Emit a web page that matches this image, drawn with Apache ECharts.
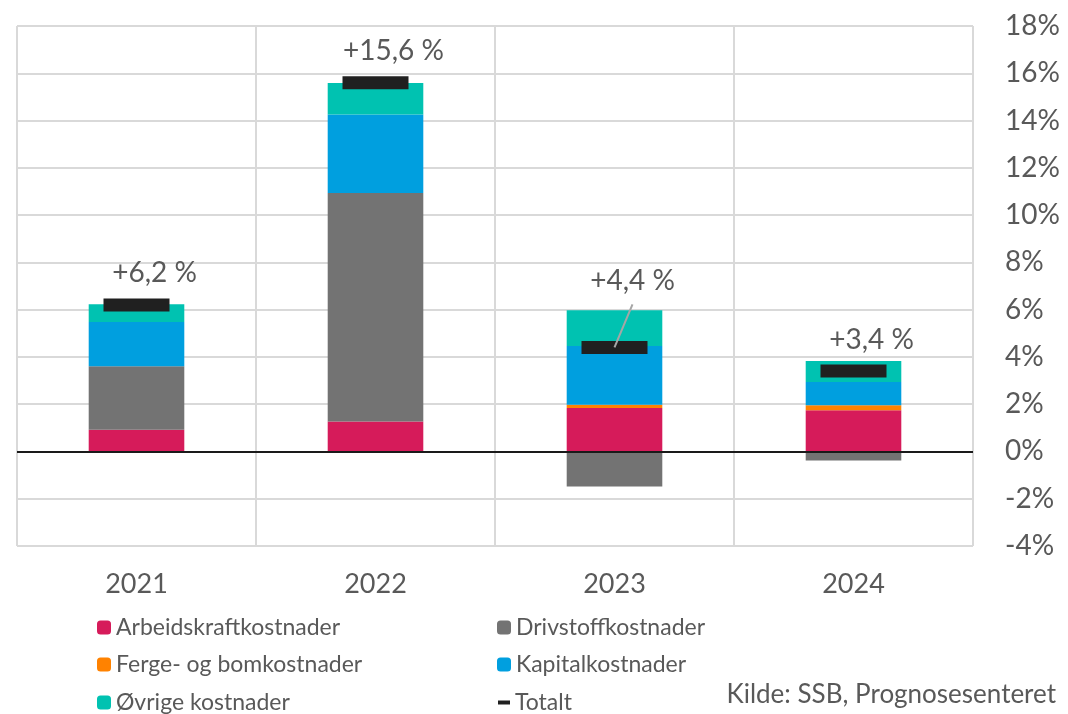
<!DOCTYPE html>
<html>
<head>
<meta charset="utf-8">
<script src="https://cdn.jsdelivr.net/npm/echarts@6/dist/echarts.min.js"></script>
<style>
html,body{margin:0;padding:0;background:#fff;}
#c{width:1068px;height:714px;}
</style>
</head>
<body>
<div id="c"></div>
<script>
const categories = ['2021', '2022', '2023', '2024'];
const arbeidskraft = [0.92, 1.27, 1.84, 1.74];
const drivstoff = [2.68, 9.66, -1.48, -0.38];
const ferge = [0, 0, 0.14, 0.21];
const kapital = [1.88, 3.33, 2.48, 0.99];
const ovrige = [0.75, 1.33, 1.51, 0.89];
const totalt = [6.2, 15.6, 4.4, 3.4];
const yMin = -4, yMax = 18, yStep = 2;
const sourceText = 'Kilde: SSB, Prognosesenteret';

const FONT = 'Lato';
const TXT = '#595959';
const GRID = '#d9d9d9';

const chart = echarts.init(document.getElementById('c'), null, {renderer: 'canvas'});

function barSeries(name, data, color, extra) {
  return Object.assign({
    name: name, type: 'bar', stack: 'k', data: data, barWidth: '40%',
    itemStyle: {color: color}, emphasis: {disabled: true}, z: 2
  }, extra || {});
}

const fmt = v => '+' + v.toFixed(1).replace('.', ',') + ' %';

const legendText = {fontSize: 23, color: TXT, fontFamily: FONT};
function legendItem(name, left, top, icon) {
  return {
    orient: 'horizontal', left: left, top: top, padding: 0,
    itemWidth: icon ? 12 : 14, itemHeight: icon ? 4 : 14, itemGap: 5,
    selectedMode: false, data: [icon ? {name: name, icon: icon} : name],
    textStyle: legendText
  };
}

const LABEL_DX = 18;
const LABEL_DY = -11;
const LEADER_IDX = 2;
const LEADER_DY = -46;

chart.setOption({
  animation: false,
  textStyle: {fontFamily: FONT},
  grid: {left: 17, right: 95, top: 26, bottom: 168, containLabel: false},
  xAxis: {
    type: 'category', data: categories, position: 'bottom',
    axisLine: {show: false, onZero: false}, axisTick: {show: false},
    axisLabel: {fontSize: 27, color: TXT, margin: 25, fontFamily: FONT},
    splitLine: {show: true, lineStyle: {color: GRID, width: 2}}
  },
  yAxis: {
    type: 'value', position: 'right', min: yMin, max: yMax, interval: yStep,
    axisLine: {show: false}, axisTick: {show: false},
    axisLabel: {formatter: '{value}%', fontSize: 28, color: TXT, margin: 32, fontFamily: FONT},
    splitLine: {show: true, lineStyle: {color: GRID, width: 2}}
  },
  legend: [
    legendItem('Arbeidskraftkostnader', 97, 616),
    legendItem('Ferge- og bomkostnader', 97, 653),
    legendItem('Øvrige kostnader', 97, 691),
    legendItem('Drivstoffkostnader', 497, 616),
    legendItem('Kapitalkostnader', 497, 653),
    legendItem('Totalt', 498, 691, 'rect')
  ],
  series: [
    barSeries('Arbeidskraftkostnader', arbeidskraft, '#d61b5a', {
      markLine: {
        silent: true, symbol: 'none', label: {show: false},
        lineStyle: {color: '#1a1a1a', width: 2, type: 'solid'},
        data: [{yAxis: 0}], z: 5
      }
    }),
    barSeries('Drivstoffkostnader', drivstoff, '#737373'),
    barSeries('Ferge- og bomkostnader', ferge, '#ff8200'),
    barSeries('Kapitalkostnader', kapital, '#009fdf'),
    barSeries('Øvrige kostnader', ovrige, '#00c2b1'),
    {
      name: 'Totalt', type: 'scatter', data: totalt, symbol: 'rect', symbolSize: [66, 13],
      itemStyle: {color: '#202020', opacity: 1}, z: 6, emphasis: {disabled: true},
      label: {show: true, position: 'top', distance: 0,
              formatter: p => fmt(p.value), fontSize: 28, color: TXT, fontFamily: FONT},
      labelLayout: function (p) {
        return {dx: LABEL_DX, dy: p.dataIndex === LEADER_IDX ? LEADER_DY : LABEL_DY};
      }
    }
  ]
});

// Leader line for the 2023 label, derived from the data point's pixel position
const pt = chart.convertToPixel({seriesIndex: 5}, [LEADER_IDX, totalt[LEADER_IDX]]);
chart.setOption({
  graphic: [
    {
      type: 'text', right: 12, top: 682,
      style: {text: sourceText, fontSize: 26, fill: TXT, fontFamily: FONT}
    },
    {
      type: 'line', z: 10, silent: true,
      shape: {x1: pt[0], y1: pt[1], x2: pt[0] + LABEL_DX, y2: pt[1] + LEADER_DY + 3},
      style: {stroke: '#a6a6a6', lineWidth: 2}
    }
  ]
});
</script>
</body>
</html>
